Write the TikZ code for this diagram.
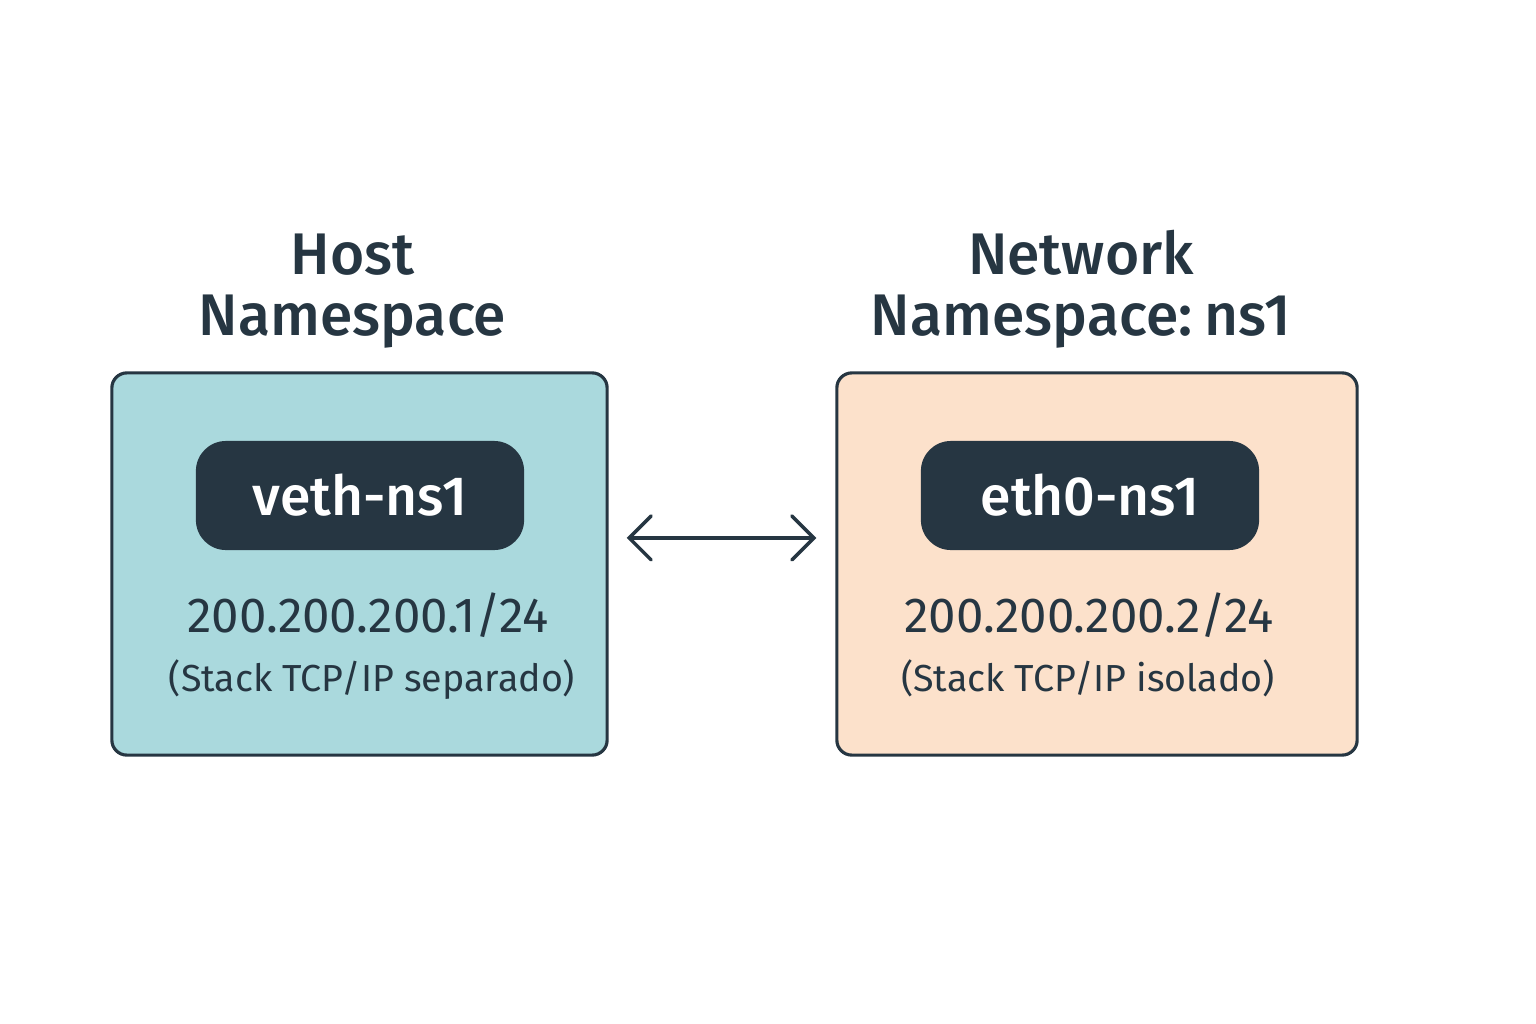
\documentclass[tikz,border=0pt]{standalone}
\usepackage{fontspec}
\setmainfont{Fira Sans}
\newfontfamily\titlefont{Fira Sans Medium}
\usetikzlibrary{arrows.meta}
\usetikzlibrary{calc}
\usetikzlibrary{positioning}

\definecolor{ink}{HTML}{263642}
\definecolor{hostfill}{HTML}{AAD9DD}
\definecolor{nsfill}{HTML}{FCE1CB}

\tikzset{
	nsbox/.style={draw=ink, line width=0.9pt, rounded corners=0.15cm, minimum height=3.82cm},
	iface/.style={fill=ink, text=white, rounded corners=0.3cm, minimum height=1.09cm, font=\titlefont\fontsize{15.7}{17}\selectfont},
	nstitle/.style={text=ink, align=center, inner sep=0pt, font=\titlefont\fontsize{16.7}{17.4}\selectfont},
	ipaddr/.style={text=ink, anchor=base, inner sep=0pt, font=\fontsize{14}{16}\selectfont},
	stacknote/.style={text=ink, anchor=base, inner sep=0pt, font=\fontsize{10.7}{13}\selectfont},
	link/.style={draw=ink, line width=1pt, line cap=round, {Straight Barb[length=2.2mm,width=4.4mm,line cap=round]}-{Straight Barb[length=2.2mm,width=4.4mm,line cap=round]}}
}

\begin{document}
\begin{tikzpicture}[x=0.01cm, y=-0.01cm]
	\useasboundingbox (0,0) rectangle (1536,1024);

	% namespaces
	\node[nsbox, fill=hostfill, minimum width=4.95cm] at (359.5,564) (host) {};
	\node[nsbox, fill=nsfill, minimum width=5.20cm] at (1097,564) (ns) {};

	\node[nstitle, above=0.22cm of host, xshift=-0.07cm] (hosttitle) {Host\\Namespace};
	\node[nstitle, above=0.22cm of ns, xshift=-0.16cm] (nstitle) {Network\\\spaceskip=0.12em\relax Namespace: ns1};

	% interfaces
	\node[iface, minimum width=3.28cm] at (360,495.5) (veth) {veth-ns1};
	\node[iface, minimum width=3.38cm] at (1090,495.5) (eth) {eth0-ns1};

	\node[ipaddr] at (368,632) (hostip) {200.200.200.1/24};
	\node[ipaddr] at (1089,632) (nsip) {200.200.200.2/24};
	\node[stacknote] at (372,691) (hoststack) {(Stack TCP/IP separado)};
	\node[stacknote] at (1088,691) (nsstack) {(Stack TCP/IP isolado)};

	% veth pair
	\draw[link, shorten <=0.18cm, shorten >=0.19cm] ([yshift=0.26cm]host.east) -- ([yshift=0.26cm]ns.west);
\end{tikzpicture}
\end{document}
